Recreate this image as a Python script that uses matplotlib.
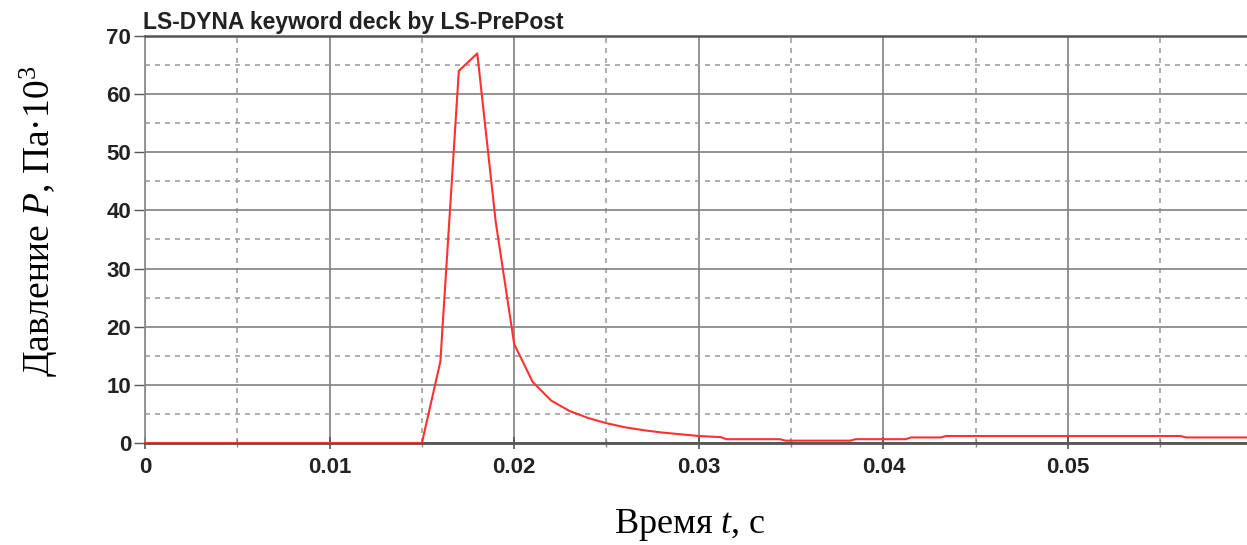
import matplotlib.pyplot as plt
import numpy as np
from matplotlib.ticker import MultipleLocator

plt.rcParams['mathtext.fontset'] = 'custom'
plt.rcParams['mathtext.rm'] = 'Liberation Serif'
plt.rcParams['mathtext.it'] = 'Liberation Serif:italic'

# pressure history (time in s, pressure in kPa)
time = [0.0, 0.015, 0.016, 0.017, 0.018, 0.019, 0.020, 0.021, 0.022, 0.023,
        0.024, 0.025, 0.026, 0.027, 0.028, 0.029, 0.030, 0.0312, 0.0315,
        0.0344, 0.0347, 0.0382, 0.0385, 0.0412, 0.0415, 0.0431, 0.0434,
        0.0561, 0.0564, 0.0600]
pressure = [0.0, 0.0, 14.0, 64.0, 67.0, 38.0, 17.0, 10.5, 7.3, 5.5,
            4.3, 3.4, 2.7, 2.2, 1.8, 1.5, 1.2, 1.0, 0.65,
            0.65, 0.4, 0.4, 0.65, 0.65, 0.95, 0.95, 1.2,
            1.2, 0.95, 0.95]

x_ticks = [0, 0.01, 0.02, 0.03, 0.04, 0.05]
x_tick_labels = ['0', '0.01', '0.02', '0.03', '0.04', '0.05']
y_ticks = [0, 10, 20, 30, 40, 50, 60, 70]

fig = plt.figure(figsize=(12.47, 5.45), dpi=100)
ax = fig.add_axes([0.1163, 0.1872, 0.8837, 0.7468])

ax.plot(time, pressure, color='#ff3030', lw=1.5, zorder=3)

ax.set_xlim(0, 0.0597)
ax.set_ylim(0, 70)
ax.set_xticks(x_ticks)
ax.set_xticklabels(x_tick_labels)
ax.set_yticks(y_ticks)
ax.xaxis.set_minor_locator(MultipleLocator(0.005))
ax.yaxis.set_minor_locator(MultipleLocator(5))

ax.grid(which='major', color='#808080', lw=1.2, ls='-')
ax.grid(which='minor', color='#a0a0a0', lw=1.2, ls=(0, (3, 3)))

for lab in ax.get_xticklabels() + ax.get_yticklabels():
    lab.set_fontfamily('Liberation Sans')
    lab.set_fontweight('bold')
    lab.set_fontsize(16)
    lab.set_color('#222222')

ax.tick_params(axis='y', which='major', length=8, width=1, color='#555555', pad=2)
ax.tick_params(axis='y', which='minor', length=0)
ax.tick_params(axis='x', which='major', length=8, width=1.2, color='#555555', pad=6, direction='inout')
ax.tick_params(axis='x', which='minor', length=6, width=1, color='#888888', direction='inout')

ax.spines['right'].set_visible(False)
ax.spines['bottom'].set_color('#555555')
ax.spines['bottom'].set_linewidth(2)
ax.spines['top'].set_color('#555555')
ax.spines['top'].set_linewidth(1.8)
ax.spines['left'].set_color('#888888')
ax.spines['left'].set_linewidth(1.2)

ax.text(-0.002, 1.006, 'LS-DYNA keyword deck by LS-PrePost', transform=ax.transAxes,
        fontfamily='Liberation Sans', fontweight='bold', fontsize=16.5,
        ha='left', va='bottom', color='#222222')

fig.text(0.031, 0.593, 'Давление $P$, Па·10$^3$', rotation=90, ha='center', va='center',
         fontfamily='Liberation Serif', fontsize=27)
fig.text(0.553, 0.036, 'Время $t$, с', ha='center', va='center',
         fontfamily='Liberation Serif', fontsize=26)

fig.savefig('out.png', dpi=100)
